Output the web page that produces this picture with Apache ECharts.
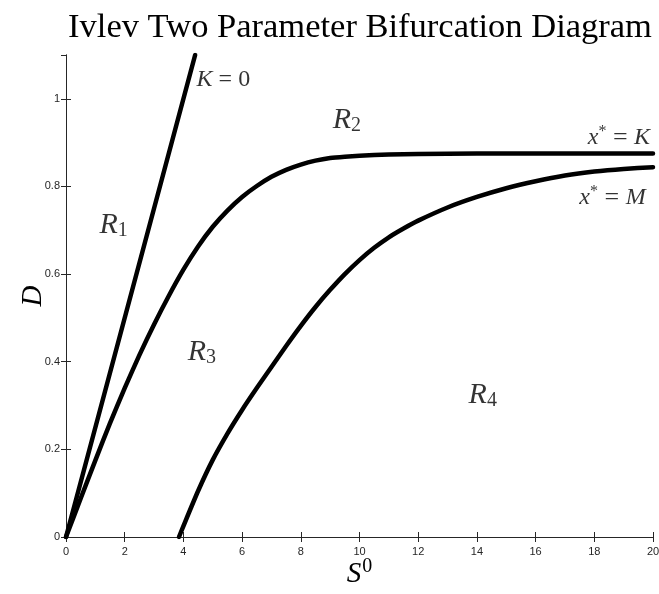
<!DOCTYPE html>
<html>
<head>
<meta charset="utf-8">
<script src="https://cdn.jsdelivr.net/npm/echarts@6/dist/echarts.min.js"></script>
<style>
  html, body { margin: 0; padding: 0; background: #fff; }
  #chart { width: 659px; height: 594px; }
</style>
</head>
<body>
<div id="chart"></div>
<script>
// Boundary curves in the (S0, D) plane
const kZeroS = [0, 4.4];
const kZeroD = [0, 1.1];

const xStarKS = [0, 0.5, 1, 1.5, 2, 2.5, 3, 3.5, 4, 4.5, 5, 5.5, 6, 6.5, 7, 7.5, 8, 8.5, 9, 9.5, 10, 11, 12, 14, 16, 18, 20];
const xStarKD = [0, 0.088, 0.175, 0.26, 0.34, 0.415, 0.485, 0.55, 0.61, 0.663, 0.708, 0.745, 0.776, 0.801, 0.822, 0.838, 0.85, 0.859, 0.865, 0.868, 0.87, 0.873, 0.874, 0.875, 0.875, 0.875, 0.875];

const xStarMS = [3.85, 4, 4.5, 5, 5.5, 6, 6.5, 7, 7.5, 8, 8.5, 9, 9.5, 10, 10.5, 11, 11.5, 12, 13, 14, 15, 16, 17, 18, 19, 20];
const xStarMD = [0, 0.025, 0.105, 0.176, 0.236, 0.29, 0.34, 0.388, 0.436, 0.482, 0.525, 0.564, 0.6, 0.632, 0.66, 0.684, 0.704, 0.722, 0.752, 0.776, 0.796, 0.812, 0.825, 0.834, 0.84, 0.844];

const xTicks = [0, 2, 4, 6, 8, 10, 12, 14, 16, 18, 20];
const yTicks = [0, 0.2, 0.4, 0.6, 0.8, 1];

// Region and curve annotations: [S0, D, label, alignment]
const annotations = [
  [4.45, 1.043, '{it|K}{rm| = 0}', 'left'],
  [1.62, 0.712, '{R|R}{sub|1}', 'center'],
  [9.57, 0.952, '{R|R}{sub|2}', 'center'],
  [4.63, 0.422, '{R|R}{sub|3}', 'center'],
  [14.2, 0.324, '{R|R}{sub|4}', 'center'],
  [19.9, 0.911, '{it|x}{sup|*}{eq| = }{it|K}', 'right'],
  [19.75, 0.774, '{it|x}{sup|*}{eq| = }{it|M}', 'right']
];

const zip = (a, b) => a.map((v, i) => [v, b[i]]);
const serif = '"Liberation Serif", "DejaVu Serif", serif';
const axisColor = '#262626';

const chart = echarts.init(document.getElementById('chart'), null, { renderer: 'canvas' });

const baseX = {
  type: 'value', min: 0, max: 20, interval: 2,
  splitLine: { show: false },
  axisLine: { show: true, lineStyle: { color: axisColor, width: 1 } },
  axisTick: { show: true, inside: true, length: 5, lineStyle: { color: axisColor } }
};
const baseY = {
  type: 'value', min: 0, max: 1.1, interval: 0.2,
  splitLine: { show: false },
  axisLine: { show: true, lineStyle: { color: axisColor, width: 1 } },
  axisTick: { show: true, inside: true, length: 5, lineStyle: { color: axisColor } }
};

const lineSeries = (data) => ({
  type: 'line', data, showSymbol: false, symbol: 'none', smooth: 0.2,
  lineStyle: { color: '#000', width: 4.5, join: 'round', cap: 'round' }, clip: true, z: 3
});

const richStyles = {
  it: { fontFamily: serif, fontStyle: 'italic', fontSize: 24, color: '#000' },
  rm: { fontFamily: serif, fontSize: 24, color: '#000' },
  eq: { fontFamily: serif, fontSize: 26, color: '#000' },
  R: { fontFamily: serif, fontStyle: 'italic', fontSize: 30, color: '#000' },
  sub: { fontFamily: serif, fontSize: 20, color: '#000', padding: [12, 0, 0, 0] },
  sup: { fontFamily: serif, fontSize: 16, color: '#000', padding: [0, 0, 12, 0] }
};

chart.setOption({
  animation: false,
  backgroundColor: '#fff',
  title: {
    text: 'Ivlev Two Parameter Bifurcation Diagram',
    left: 355, top: 5, textAlign: 'center',
    textStyle: { fontFamily: serif, fontSize: 34.5, fontWeight: 'normal', color: '#000' }
  },
  grid: { left: 66, right: 6, top: 55, bottom: 57, containLabel: false, outerBoundsMode: 'none' },
  xAxis: [
    Object.assign({}, baseX, {
      position: 'bottom',
      axisLabel: { color: axisColor, fontFamily: '"Liberation Sans", Arial, sans-serif', fontSize: 11, margin: 9,
        formatter: v => xTicks.includes(v) ? String(v) : '' },
      name: '{it|S}{sup|0}', nameLocation: 'middle', nameGap: 20, nameMoveOverlap: false,
      nameTextStyle: {
        rich: {
          it: { fontFamily: serif, fontStyle: 'italic', fontSize: 29, color: '#000' },
          sup: { fontFamily: serif, fontSize: 20, color: '#000', padding: [0, 0, 14, 1] }
        }
      }
    }),
    Object.assign({}, baseX, { position: 'top', axisLabel: { show: false } })
  ],
  yAxis: [
    Object.assign({}, baseY, {
      position: 'left',
      axisLabel: { color: axisColor, fontFamily: '"Liberation Sans", Arial, sans-serif', fontSize: 11, margin: 6,
        showMaxLabel: false,
        formatter: v => yTicks.some(t => Math.abs(t - v) < 1e-9) ? String(+v.toFixed(1)) : '' },
      name: 'D', nameLocation: 'middle', nameGap: 18, nameRotate: 90, nameMoveOverlap: false,
      nameTextStyle: { fontFamily: serif, fontStyle: 'italic', fontSize: 29, color: '#000' }
    }),
    Object.assign({}, baseY, { position: 'right', axisLabel: { show: false } })
  ],
  series: [
    Object.assign(lineSeries(zip(kZeroS, kZeroD)), { smooth: false }),
    lineSeries(zip(xStarKS, xStarKD)),
    lineSeries(zip(xStarMS, xStarMD)),
    {
      type: 'scatter', symbolSize: 0, silent: true, z: 5,
      data: annotations.map(a => ({
        value: [a[0], a[1]],
        label: {
          show: true, position: 'inside', align: a[3], verticalAlign: 'middle',
          color: '#000',
          formatter: a[2],
          rich: richStyles
        }
      }))
    }
  ]
});
</script>
</body>
</html>
